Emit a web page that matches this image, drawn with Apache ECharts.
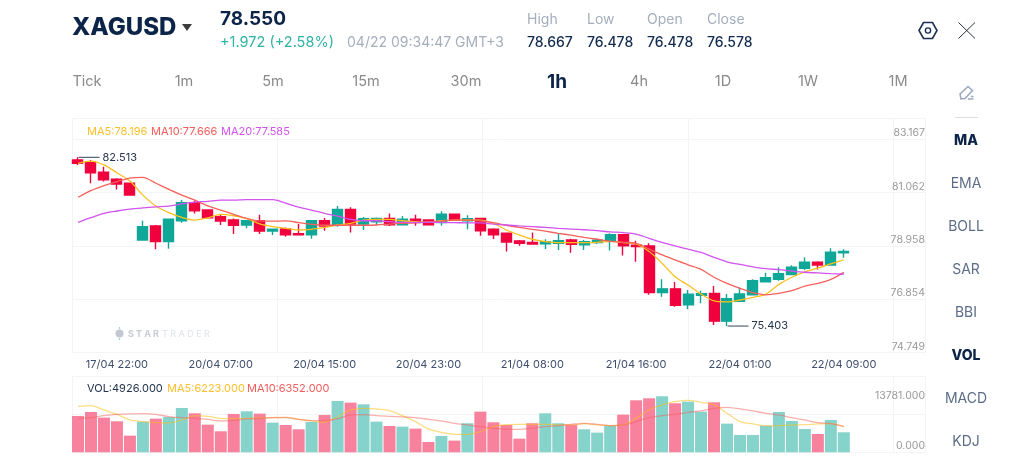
<!DOCTYPE html>
<html>
<head>
<meta charset="utf-8">
<style>html,body{margin:0;padding:0;background:#fff}#chart{width:1024px;height:471px}</style>
<script src="https://cdn.jsdelivr.net/npm/echarts@6/dist/echarts.min.js"></script>
</head>
<body>
<div id="chart"></div>
<script>
// XAGUSD one-hour candles: [open, close, low, high]
const candles = [
[82.40,82.26,82.19,82.513],[82.29,81.86,81.42,82.40],[81.89,81.56,81.49,82.12],[81.59,81.39,81.16,81.63],[81.42,80.92,80.91,81.44],
[79.03,79.59,79.00,79.84],[79.62,78.96,78.64,79.66],[78.96,79.90,78.66,79.90],[79.84,80.60,79.76,80.71],[80.60,80.26,80.15,80.68],
[80.29,79.96,79.93,80.32],[80.01,79.83,79.66,80.11],[79.87,79.65,79.28,79.93],[79.66,79.84,79.52,79.84],[79.84,79.41,79.28,80.09],
[79.41,79.48,79.24,79.48],[79.49,79.25,79.17,79.56],[79.29,79.25,79.25,79.70],[79.25,79.84,79.08,79.87],[79.84,79.62,79.42,79.96],
[79.66,80.32,79.59,80.46],[80.32,79.70,79.34,80.41],[79.70,79.93,79.45,80.00],[79.80,79.94,79.66,79.98],[79.94,79.67,79.62,80.15],
[79.67,79.90,79.66,80.04],[79.90,79.76,79.63,80.09],[79.87,79.67,79.66,79.87],[79.76,80.12,79.63,80.24],[80.12,79.87,79.87,80.15],
[79.84,79.93,79.48,80.07],[79.94,79.42,79.21,79.94],[79.48,79.25,79.07,79.52],[79.31,78.94,78.54,79.31],[78.99,78.89,78.79,79.03],
[78.92,78.86,78.85,79.34],[78.87,78.96,78.65,79.06],[78.89,79.00,78.61,79.31],[79.03,78.85,78.49,79.08],[78.83,78.96,78.61,79.03],
[78.92,79.02,78.86,79.10],[79.00,79.25,78.59,79.31],[79.25,78.78,78.38,79.25],[78.81,78.75,78.11,79.00],[78.78,76.81,76.72,78.89],
[76.81,76.97,76.64,77.37],[76.97,76.28,76.22,77.26],[76.30,76.74,76.11,76.92],[76.70,76.77,76.36,76.89],[76.78,75.61,75.45,77.09],
[75.61,76.55,75.403,76.75],[76.45,76.75,76.42,77.03],[76.72,77.31,76.70,77.37],[77.27,77.44,77.26,77.65],[77.37,77.61,77.31,77.88],
[77.57,77.88,77.54,77.96],[77.84,78.09,77.76,78.30],[78.09,77.97,77.79,78.13],[77.97,78.51,77.94,78.68],[78.49,78.55,78.28,78.64]
];
const ma5 = [82.26,82.35,82.19,81.86,81.51,80.92,80.46,80.18,79.98,79.87,79.96,80.11,80.05,79.93,79.71,79.59,79.52,79.45,79.48,79.56,
79.66,79.73,79.87,79.90,79.90,79.84,79.80,79.77,79.84,79.87,79.87,79.87,79.73,79.45,79.24,79.06,78.96,78.92,78.92,78.92,
78.93,78.97,78.92,78.86,78.54,78.05,77.48,77.13,76.75,76.46,76.42,76.50,76.61,76.75,77.16,77.46,77.69,77.84,78.02,78.196];
const ma10 = [80.83,81.11,81.32,81.49,81.64,81.67,81.42,81.16,80.92,80.71,80.47,80.29,80.11,79.94,79.83,79.82,79.83,79.76,79.69,79.65,
79.65,79.65,79.65,79.66,79.70,79.73,79.76,79.79,79.82,79.87,79.87,79.84,79.76,79.65,79.56,79.48,79.40,79.31,79.23,79.14,
79.06,78.97,78.93,78.89,78.64,78.40,78.19,77.98,77.79,77.46,77.20,76.99,76.81,76.72,76.78,76.89,77.09,77.20,77.37,77.666];
const ma20 = [79.77,79.97,80.15,80.25,80.33,80.38,80.42,80.46,80.55,80.62,80.66,80.71,80.71,80.73,80.73,80.73,80.58,80.41,80.29,80.15,
80.03,79.90,79.84,79.84,79.80,79.77,79.77,79.77,79.77,79.76,79.75,79.75,79.70,79.66,79.62,79.59,79.56,79.52,79.49,79.46,
79.42,79.37,79.34,79.28,79.10,78.93,78.78,78.64,78.51,78.30,78.11,78.00,77.90,77.82,77.78,77.72,77.67,77.64,77.61,77.585];
const volume = [8938,9922,8528,7626,4100,7544,8282,8692,10906,9594,6806,5166,9430,10086,9512,7298,6724,5658,7462,9184,
12628,12218,11808,7544,6478,6314,5822,2542,4018,2870,7134,10004,7380,6724,3362,7134,9594,7134,6724,5658,
4838,6560,9266,12792,13284,13781,12054,12464,10004,12300,7052,4264,4264,6560,9922,7708,5740,4510,7954,4926];
const volMa5 = [11316,11480,10414,9348,7954,7544,7298,7216,7954,9020,8856,8364,8282,8364,8446,8528,8610,8118,7708,7380,
8774,10414,10824,10660,10250,9020,7544,5740,4920,4428,4428,5084,6314,6806,6888,6888,6888,6724,6724,7052,
6724,6560,6724,8364,10414,11644,12464,12792,12300,11644,9594,7544,6970,6478,6560,6724,6806,6970,7052,6223];
const volMa10 = [8282,8528,9020,9348,9430,9512,9348,8774,8528,8364,8118,7708,7872,8200,8364,8528,8528,8118,7790,7790,
8200,9184,9266,9020,8856,8692,8528,8118,7708,7134,6724,6314,5904,5658,5658,5904,6314,6560,6888,7134,
6888,6560,6724,7544,8528,9020,9348,9840,10168,10824,11070,10660,10168,9594,9184,8528,7954,7298,7052,6352];
const timeTicks = ['17/04 22:00','20/04 07:00','20/04 15:00','20/04 23:00','21/04 08:00','21/04 16:00','22/04 01:00','22/04 09:00'];
const priceTicks = [83.167,81.062,78.958,76.854,74.749];
const volumeTicks = [13781,0];
const periods = ['Tick','1m','5m','15m','30m','1h','4h','1D','1W','1M'];
const indicators = ['MA','EMA','BOLL','SAR','BBI','VOL','MACD','KDJ'];
const quoteFields = [['High','78.667'],['Low','76.478'],['Open','76.478'],['Close','76.578']];

const UP = '#0fa797', DOWN = '#f0003c', UP_SOFT = '#85d3cb', DOWN_SOFT = '#f8819e';
const GRID = '#f3f4f5', NAVY = '#0b2447', FONT = 'Inter, "Noto Sans", sans-serif';

const categories = candles.map((_, i) => (i % 8 === 3 ? timeTicks[(i - 3) / 8] : ''));

function text(x, y, str, size, fill, weight, align) {
  return {
    type: 'text', silent: true, z: 10,
    style: {
      x, y, text: str, fill, textAlign: align || 'left', textVerticalAlign: 'middle',
      font: (weight || 400) + ' ' + size + 'px ' + FONT
    }
  };
}

const periodX = [87, 184, 273, 366, 466, 557, 639, 723, 808, 898];
const quoteX = [527, 587, 647, 707];
const header = [
  text(72, 28, 'XAGUSD', 24, NAVY, 800),
  { type: 'polygon', silent: true, shape: { points: [[182, 24], [192, 24], [187, 31]] }, style: { fill: '#3c3c3c' } },
  text(220, 19, '78.550', 19, NAVY, 700),
  text(220, 43, '+1.972 (+2.58%)', 14.5, '#2fb3a3', 400),
  text(347, 43, '04/22 09:34:47 GMT+3', 14, '#a5aebd', 400),
  // settings and close icons
  { type: 'polygon', silent: true, shape: { points: [[919, 30.5], [923.5, 22.5], [932.5, 22.5], [937, 30.5], [932.5, 38.5], [923.5, 38.5]] }, style: { fill: 'none', stroke: '#1b2f52', lineWidth: 1.6 } },
  { type: 'circle', silent: true, shape: { cx: 928, cy: 30.5, r: 2.6 }, style: { fill: 'none', stroke: '#1b2f52', lineWidth: 1.4 } },
  { type: 'line', silent: true, shape: { x1: 958.5, y1: 22.5, x2: 975, y2: 38.5 }, style: { stroke: '#2a3342', lineWidth: 1 } },
  { type: 'line', silent: true, shape: { x1: 975, y1: 22.5, x2: 958.5, y2: 38.5 }, style: { stroke: '#2a3342', lineWidth: 1 } },
  // drawing tool icon
  { type: 'polygon', silent: true, shape: { points: [[961, 99], [960, 94], [968, 86.5], [972.5, 90.5], [965, 98.5]] }, style: { fill: 'none', stroke: '#9aa8bd', lineWidth: 1.5 } },
  { type: 'line', silent: true, shape: { x1: 968, y1: 99, x2: 973.5, y2: 99 }, style: { stroke: '#9aa8bd', lineWidth: 1.5 } },
  { type: 'line', silent: true, shape: { x1: 971, y1: 96.5, x2: 973.5, y2: 96.5 }, style: { stroke: '#9aa8bd', lineWidth: 1.5 } },
  { type: 'line', silent: true, shape: { x1: 955, y1: 117.5, x2: 978, y2: 117.5 }, style: { stroke: '#d9dde5', lineWidth: 1 } },
  // indicator legends
  text(87, 132, 'MA5:78.196', 11, '#fbc02d'),
  text(151, 132, 'MA10:77.666', 11, '#f25c5c'),
  text(221, 132, 'MA20:77.585', 11, '#d253ee'),
  text(87, 389, 'VOL:4926.000', 11, '#24344f'),
  text(167, 389, 'MA5:6223.000', 11, '#fbc02d'),
  text(247, 389, 'MA10:6352.000', 11, '#f25c5c'),
  // watermark
  { type: 'circle', silent: true, shape: { cx: 119.5, cy: 333.5, r: 4 }, style: { fill: '#c3c8d0' } },
  { type: 'line', silent: true, shape: { x1: 119.5, y1: 327, x2: 119.5, y2: 340 }, style: { stroke: '#8fdcd8', lineWidth: 1.2, lineDash: [2, 9] } },
  text(128, 334, 'S T A R', 9, '#c7ccd4', 700),
  text(162, 334, 'T R A D E R', 9, '#e3e6ea', 500)
];
periods.forEach((p, i) => {
  const on = p === '1h';
  header.push(text(periodX[i], 82, p, on ? 19 : 14.5, on ? NAVY : '#8a8a8a', on ? 700 : 400, 'center'));
});
quoteFields.forEach((f, i) => {
  header.push(text(quoteX[i], 20, f[0], 14, '#a5aebd'));
  header.push(text(quoteX[i], 43, f[1], 14, '#142b50', 500));
});
indicators.forEach((n, i) => {
  const on = n === 'MA' || n === 'VOL';
  header.push(text(966, 141 + i * 43, n, 14, on ? NAVY : '#5d6d88', on ? 800 : 400, 'center'));
});

function line(name, data, color, xi, yi, opacity) {
  return {
    name, type: 'line', data, xAxisIndex: xi, yAxisIndex: yi, showSymbol: false, smooth: 0.3,
    lineStyle: { color, width: 1.3, opacity: opacity || 1 }, z: 5, silent: true
  };
}
function extreme(idx, value) {
  return {
    coord: [idx, value], value, symbol: 'rect', symbolSize: [21, 1], symbolOffset: [11, 0],
    itemStyle: { color: '#33445f' },
    label: { show: true, position: 'right', distance: 3, formatter: String(value), color: '#24344f', fontSize: 11, fontFamily: FONT }
  };
}
const gridAxisCommon = {
  axisLine: { show: false }, axisTick: { show: false }, axisLabel: { show: false },
  splitLine: { show: true, lineStyle: { color: GRID, width: 1 } }
};
const LABEL_TOP = 83.995; // scale value of the topmost rule above the first price label
const VOL_TOP = 18770;

const option = {
  animation: false,
  backgroundColor: '#fff',
  graphic: header,
  grid: [
    { left: 71.5, top: 118, width: 778.8, height: 234.5 },   // candles
    { left: 72, top: 118, width: 853, height: 234.5 },        // price rules and labels
    { left: 71.5, top: 376, width: 778.8, height: 76.3 },     // volume bars
    { left: 72, top: 376, width: 853, height: 76.3 }          // volume rules and labels
  ],
  xAxis: [
    { gridIndex: 0, type: 'category', data: categories, axisLine: { show: false }, axisTick: { show: false },
      axisLabel: { interval: 0, margin: 7, color: '#3f4f6e', fontSize: 11, fontFamily: FONT, hideOverlap: false },
      splitLine: { show: false } },
    { gridIndex: 1, type: 'value', min: 0, max: 4.155, interval: 1, ...gridAxisCommon },
    { gridIndex: 2, type: 'category', data: categories, axisLine: { show: false }, axisTick: { show: false }, axisLabel: { show: false }, splitLine: { show: false } },
    { gridIndex: 3, type: 'value', min: 0, max: 4.155, interval: 1, ...gridAxisCommon }
  ],
  yAxis: [
    { gridIndex: 0, type: 'value', min: 74.288, max: 84.169, show: false, splitLine: { show: false } },
    { gridIndex: 1, type: 'value', min: 74.749 - 0, max: LABEL_TOP, position: 'right',
      axisLine: { show: false },
      axisTick: { show: false, customValues: priceTicks.concat([LABEL_TOP]) },
      axisLabel: { inside: true, margin: 0, align: 'right', verticalAlign: 'bottom', lineHeight: 12, customValues: priceTicks,
        formatter: v => v.toFixed(3), color: '#9a9a9a', fontSize: 10.5, fontFamily: FONT },
      splitLine: { show: true, lineStyle: { color: GRID, width: 1 } } },
    { gridIndex: 2, type: 'value', min: 0, max: VOL_TOP, show: false, splitLine: { show: false } },
    { gridIndex: 3, type: 'value', min: 0, max: VOL_TOP, position: 'right',
      axisLine: { show: false },
      axisTick: { show: false, customValues: [0, VOL_TOP / 2, VOL_TOP] },
      axisLabel: { inside: true, margin: 0, align: 'right', customValues: volumeTicks,
        formatter: v => (v === 0 ? '{base|0.000}' : v.toFixed(3)),
        rich: { base: { padding: [0, 0, 12, 0], color: '#9a9a9a', fontSize: 10.5, fontFamily: FONT } },
        color: '#9a9a9a', fontSize: 10.5, fontFamily: FONT },
      splitLine: { show: true, lineStyle: { color: GRID, width: 1 } } }
  ],
  series: [
    { name: 'XAGUSD', type: 'candlestick', data: candles, xAxisIndex: 0, yAxisIndex: 0, barWidth: 10.5, z: 3, silent: true,
      itemStyle: { color: UP, color0: DOWN, borderColor: UP, borderColor0: DOWN, borderWidth: 1.4 },
      markPoint: { silent: true, animation: false, data: [extreme(0, 82.513), extreme(50, 75.403)] } },
    line('MA5', ma5, '#fbbf1c', 0, 0),
    line('MA10', ma10, '#f6605a', 0, 0),
    line('MA20', ma20, '#d253ee', 0, 0),
    { name: 'VOL', type: 'bar', xAxisIndex: 2, yAxisIndex: 2, barWidth: 12, z: 3, silent: true,
      data: volume.map((v, i) => ({ value: v, itemStyle: { color: candles[i][1] >= candles[i][0] ? UP_SOFT : DOWN_SOFT } })) },
    line('VOL MA5', volMa5, '#fbbf1c', 2, 2, 0.55),
    line('VOL MA10', volMa10, '#f6605a', 2, 2, 0.5)
  ]
};
echarts.init(document.getElementById('chart')).setOption(option);
</script>
</body>
</html>
